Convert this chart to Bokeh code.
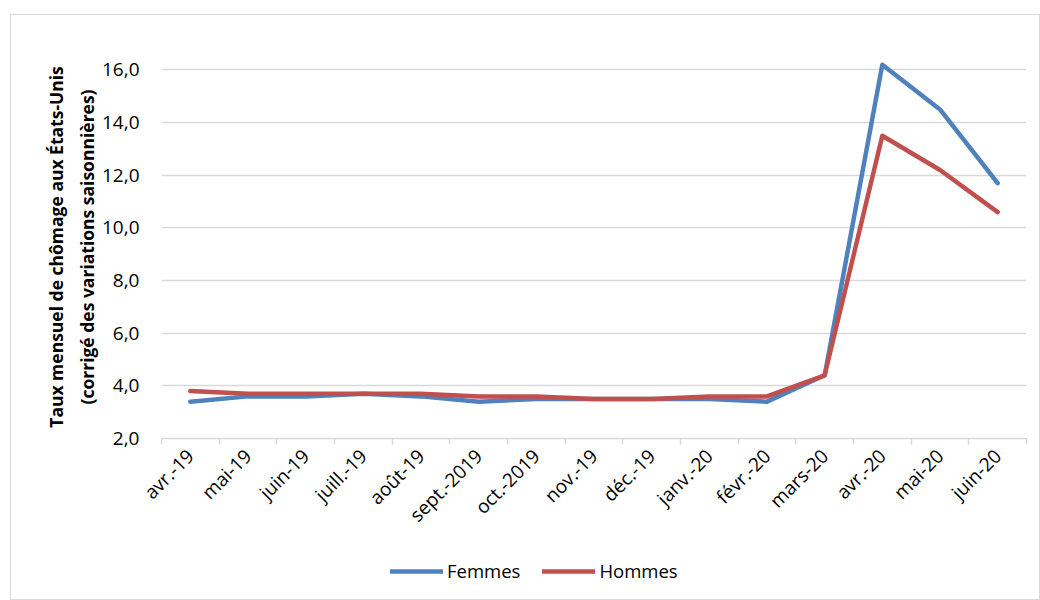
import math
from bokeh.plotting import figure
from bokeh.layouts import column
from bokeh.models import (ColumnDataSource, FixedTicker, CustomJSTickFormatter, Legend, LegendItem, Range1d)
from bokeh.embed import file_html
from bokeh.resources import INLINE

months = ["avr.-19", "mai-19", "juin-19", "juill.-19", "août-19", "sept.-2019", "oct.-2019",
          "nov.-19", "déc.-19", "janv.-20", "févr.-20", "mars-20", "avr.-20", "mai-20", "juin-20"]
femmes = [3.4, 3.6, 3.6, 3.7, 3.6, 3.4, 3.5, 3.5, 3.5, 3.5, 3.4, 4.4, 16.2, 14.5, 11.7]
hommes = [3.8, 3.7, 3.7, 3.7, 3.7, 3.6, 3.6, 3.5, 3.5, 3.6, 3.6, 4.4, 13.5, 12.2, 10.6]
y_ticks = [2, 4, 6, 8, 10, 12, 14, 16]
y_label = "Taux mensuel de chômage aux États-Unis\n(corrigé des variations saisonnières)"

FONT = "Open Sans"
BLUE, RED = "#4F81BD", "#C0504D"
n = len(months)
xs = [i + 0.5 for i in range(n)]
src = ColumnDataSource(dict(x=xs, femmes=femmes, hommes=hommes))

p = figure(width=1028, height=524, output_backend="svg", toolbar_location=None,
           x_range=Range1d(0, n), y_range=Range1d(2, 16.55),
           min_border_left=150, min_border_right=13, min_border_top=40, min_border_bottom=101)
p.outline_line_color = None
p.background_fill_color = "white"
p.border_fill_color = "white"

# gridlines
p.xgrid.grid_line_color = None
p.ygrid.grid_line_color = "#d9d9d9"
p.ygrid.grid_line_width = 1.5

# y axis
p.yaxis.ticker = FixedTicker(ticks=y_ticks)
p.yaxis.formatter = CustomJSTickFormatter(code="return tick.toFixed(1).replace('.', ',');")
p.yaxis.axis_line_color = None
p.yaxis.major_tick_line_color = None
p.yaxis.minor_tick_line_color = None
p.yaxis.major_label_standoff = 16
p.yaxis.major_label_text_font = FONT
p.yaxis.major_label_text_font_size = "19px"
p.yaxis.major_label_text_color = "#000000"
p.yaxis.axis_label = y_label
p.yaxis.axis_label_text_font = FONT
p.yaxis.axis_label_text_font_style = "bold"
p.yaxis.axis_label_text_font_size = "17.5px"
p.yaxis.axis_label_text_color = "#000000"
p.yaxis.axis_label_text_line_height = 1.3
p.yaxis.axis_label_standoff = 0

# x axis: labels at category centres, ticks at boundaries
p.xaxis.ticker = FixedTicker(ticks=xs, minor_ticks=list(range(n + 1)))
p.xaxis.formatter = CustomJSTickFormatter(args=dict(labels=months),
                                          code="return labels[Math.floor(tick)];")
p.xaxis.axis_line_color = "#d9d9d9"
p.xaxis.axis_line_width = 1.5
p.xaxis.major_tick_line_color = None
p.xaxis.minor_tick_line_color = "#d9d9d9"
p.xaxis.minor_tick_line_width = 1.5
p.xaxis.minor_tick_out = 6
p.xaxis.minor_tick_in = 0
p.xaxis.major_label_orientation = math.pi / 4
p.xaxis.major_label_standoff = 8
p.xaxis.major_label_text_font = FONT
p.xaxis.major_label_text_font_size = "19px"
p.xaxis.major_label_text_color = "#000000"

p.line("x", "femmes", source=src, line_color=BLUE, line_width=4.5, line_cap="round", line_join="round")
p.line("x", "hommes", source=src, line_color=RED, line_width=4.5, line_cap="round", line_join="round")

# legend strip (same series, drawn out of view so only the legend shows)
pl = figure(width=1028, height=60, output_backend="svg", toolbar_location=None,
            x_range=Range1d(0, n), y_range=Range1d(1000, 1001),
            x_axis_type=None, y_axis_type=None,
            min_border_left=0, min_border_right=0, min_border_top=0, min_border_bottom=0)
pl.outline_line_color = None
pl.grid.grid_line_color = None
pl.border_fill_color = "white"
lf = pl.line("x", "femmes", source=src, line_color=BLUE, line_width=4.5, line_cap="round")
lh = pl.line("x", "hommes", source=src, line_color=RED, line_width=4.5, line_cap="round")
legend = Legend(items=[LegendItem(label="Femmes", renderers=[lf]),
                       LegendItem(label="Hommes", renderers=[lh])],
                orientation="horizontal", location=(229, 16),
                glyph_width=53, glyph_height=20, label_standoff=4, spacing=22,
                label_text_font=FONT, label_text_font_size="18.5px", label_text_color="#000000",
                border_line_color=None, background_fill_alpha=0, padding=0, margin=0)
pl.add_layout(legend, "center")

layout = column(p, pl, spacing=0)
layout.margin = (14, 0, 0, 10)
layout.styles = {"border": "1px solid #d9d9d9", "background-color": "white"}

open("out.html", "w").write(file_html(layout, INLINE))
